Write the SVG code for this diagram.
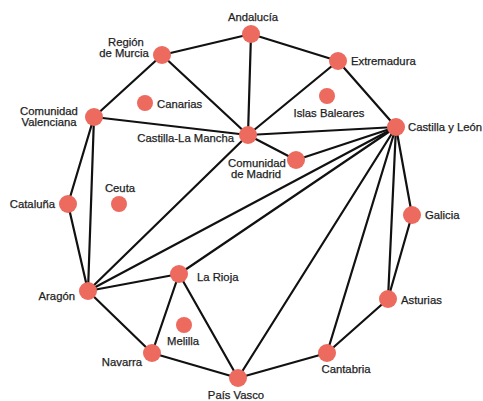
<svg xmlns="http://www.w3.org/2000/svg" width="483" height="401" viewBox="0 0 483 401">
<style>
.e{stroke:#111;stroke-width:2.2;stroke-linecap:round}
.n{fill:#EC6A5E}
text{font-family:"Liberation Sans",Arial,sans-serif;font-size:11.3px;fill:#1e1e1e;stroke:#1e1e1e;stroke-width:0.25px}
.m{text-anchor:middle}
.r{text-anchor:end}
</style>
<rect width="483" height="401" fill="#fff"/>
<g id="edges">
<line class="e" x1="251" y1="34" x2="162" y2="55"/>
<line class="e" x1="251" y1="34" x2="338" y2="61"/>
<line class="e" x1="251" y1="34" x2="248" y2="135"/>
<line class="e" x1="162" y1="55" x2="94" y2="117"/>
<line class="e" x1="162" y1="55" x2="248" y2="135"/>
<line class="e" x1="94" y1="117" x2="248" y2="135"/>
<line class="e" x1="94" y1="117" x2="68" y2="204"/>
<line class="e" x1="94" y1="117" x2="88" y2="291"/>
<line class="e" x1="68" y1="204" x2="88" y2="291"/>
<line class="e" x1="338" y1="61" x2="248" y2="135"/>
<line class="e" x1="338" y1="61" x2="396" y2="127"/>
<line class="e" x1="248" y1="135" x2="396" y2="127"/>
<line class="e" x1="248" y1="135" x2="296" y2="160"/>
<line class="e" x1="248" y1="135" x2="88" y2="291"/>
<line class="e" x1="296" y1="160" x2="396" y2="127"/>
<line class="e" x1="396" y1="127" x2="88" y2="291"/>
<line class="e" x1="396" y1="127" x2="179" y2="274"/>
<line class="e" x1="396" y1="127" x2="238" y2="378"/>
<line class="e" x1="396" y1="127" x2="327" y2="353"/>
<line class="e" x1="396" y1="127" x2="388" y2="299"/>
<line class="e" x1="396" y1="127" x2="412" y2="215"/>
<line class="e" x1="412" y1="215" x2="388" y2="299"/>
<line class="e" x1="388" y1="299" x2="327" y2="353"/>
<line class="e" x1="327" y1="353" x2="238" y2="378"/>
<line class="e" x1="88" y1="291" x2="179" y2="274"/>
<line class="e" x1="88" y1="291" x2="152" y2="353"/>
<line class="e" x1="179" y1="274" x2="152" y2="353"/>
<line class="e" x1="179" y1="274" x2="238" y2="378"/>
<line class="e" x1="152" y1="353" x2="238" y2="378"/>
</g>
<g id="andalucia"><circle class="n" cx="251" cy="34" r="9"/><text class="m" x="253" y="21">Andalucía</text></g>
<g id="murcia"><circle class="n" cx="162" cy="55" r="9"/><text class="m" x="126" y="46">Región</text><text class="m" x="124" y="57">de Murcia</text></g>
<g id="extremadura"><circle class="n" cx="338" cy="61" r="9"/><text x="351" y="65">Extremadura</text></g>
<g id="canarias"><circle class="n" cx="145" cy="103" r="8"/><text x="157" y="108">Canarias</text></g>
<g id="baleares"><circle class="n" cx="327" cy="96" r="8"/><text class="m" x="329" y="117">Islas Baleares</text></g>
<g id="valenciana"><circle class="n" cx="94" cy="117" r="9"/><text class="m" x="49" y="115">Comunidad</text><text class="m" x="49" y="126">Valenciana</text></g>
<g id="clm"><circle class="n" cx="248" cy="135" r="9"/><text class="r" x="234" y="142">Castilla-La Mancha</text></g>
<g id="cyl"><circle class="n" cx="396" cy="127" r="9"/><text x="408" y="131">Castilla y León</text></g>
<g id="madrid"><circle class="n" cx="296" cy="160" r="9"/><text class="m" x="257" y="167">Comunidad</text><text class="m" x="256" y="178">de Madrid</text></g>
<g id="ceuta"><circle class="n" cx="119" cy="204" r="8"/><text class="m" x="120" y="192">Ceuta</text></g>
<g id="cataluna"><circle class="n" cx="68" cy="204" r="9"/><text class="r" x="55" y="208">Cataluña</text></g>
<g id="galicia"><circle class="n" cx="412" cy="215" r="9"/><text x="425" y="219">Galicia</text></g>
<g id="aragon"><circle class="n" cx="88" cy="291" r="9"/><text class="r" x="75" y="300">Aragón</text></g>
<g id="rioja"><circle class="n" cx="179" cy="274" r="9"/><text x="197" y="281">La Rioja</text></g>
<g id="asturias"><circle class="n" cx="388" cy="299" r="9"/><text x="401" y="304">Asturias</text></g>
<g id="melilla"><circle class="n" cx="184" cy="325" r="8"/><text class="m" x="183" y="345">Melilla</text></g>
<g id="navarra"><circle class="n" cx="152" cy="353" r="9"/><text class="r" x="142" y="366">Navarra</text></g>
<g id="cantabria"><circle class="n" cx="327" cy="353" r="9"/><text class="m" x="346" y="373">Cantabria</text></g>
<g id="paisvasco"><circle class="n" cx="238" cy="378" r="9"/><text class="m" x="236" y="399">País Vasco</text></g>
</svg>
